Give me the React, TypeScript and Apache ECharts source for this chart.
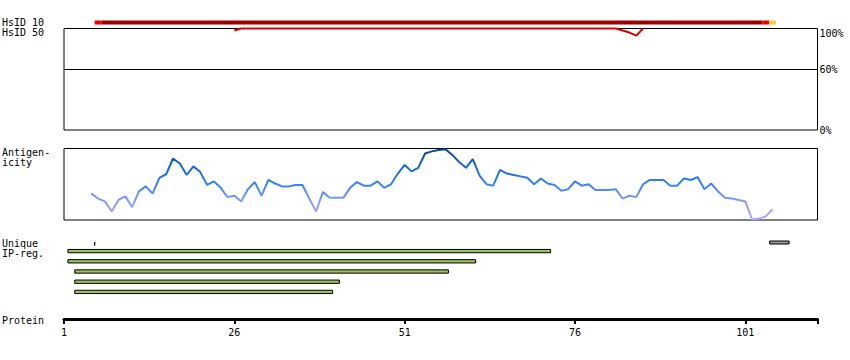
import React, { useEffect, useRef } from 'react';
import * as echarts from 'echarts';

// ---- data ----
const X_MIN = 1;
const X_MAX = 111.6;

const proteinTicks = [1, 26, 51, 76, 101];
const identityTicks = [0, 60, 100];
const identityGuide = 60;

const trackLabels = ['HsID 10', 'HsID 50', 'Antigen-', 'icity', 'Unique', 'IP-reg.', 'Protein'];

// HsID 10 coverage blocks: [from edge, to edge, level]
const hsid10Blocks: [number, number, number][] = [
  [5.5, 6.5, 1],
  [6.5, 103.5, 2],
  [103.5, 104.5, 1],
  [104.5, 105.5, 0],
];

// HsID 50 identity (%)
const hsid50Residues = [26, 27, 82, 83, 84, 85, 86];
const hsid50Identity = [98, 100, 100, 98, 96, 93, 100];

// Antigenicity, residues 5..106
const antigenStart = 5;
const antigenicity = [
  37, 30, 26, 12, 28, 33, 18, 40, 47, 37,
  59, 64, 86, 79, 63, 75, 67, 49, 54, 45,
  32, 34, 26, 43, 53, 34, 56, 51, 47, 47,
  49, 49, 30, 12, 39, 31, 31, 31, 45, 53,
  48, 48, 54, 45, 50, 65, 77, 68, 73, 93,
  96, 98, 99, 91, 81, 73, 85, 62, 50, 48,
  70, 65, 63, 61, 59, 50, 58, 51, 49, 41,
  43, 54, 48, 50, 42, 42, 42, 43, 30, 34,
  32, 50, 56, 56, 56, 48, 48, 58, 56, 60,
  43, 51, 40, 31, 30, 28, 26, 1, 2, 5,
  15,
];
const antigenResidues = antigenicity.map((_, i) => antigenStart + i);

// Unique regions (edges)
const uniqueRegions: [number, number][] = [
  [5.5, 5.5],
  [104.5, 107.5],
];

// IP-reg regions (edges), one per row
const ipRegions: [number, number][] = [
  [1.5, 72.5],
  [1.5, 61.5],
  [2.5, 57.5],
  [2.5, 41.5],
  [2.5, 40.5],
];

// ---- styles ----
const FONT = '"DejaVu Sans Mono", monospace';
const hsid10Colors = ['#ffcc33', '#ee0000', '#990000'];
const GL = 64;
const GR = 32.5;

export default function App() {
  const ref = useRef<HTMLDivElement>(null);

  useEffect(() => {
    if (!ref.current) return;
    const chart = echarts.init(ref.current, undefined, { renderer: 'svg' });

    const hiddenX = (gridIndex: number) => ({
      type: 'value',
      gridIndex,
      min: X_MIN,
      max: X_MAX,
      show: false,
    });
    const hiddenY = (gridIndex: number, extra: any = {}) => ({
      type: 'value',
      gridIndex,
      min: 0,
      max: 1,
      show: false,
      ...extra,
    });

    const option: any = {
      animation: false,
      textStyle: { fontFamily: FONT, fontSize: 10, color: '#000' },
      grid: [
        { left: GL, right: GR, top: 20.5, height: 4 },
        { left: GL, right: GR, top: 28.5, height: 101.5, show: true, borderColor: '#000', borderWidth: 1 },
        { left: GL, right: GR, top: 148.5, height: 71.5, show: true, borderColor: '#000', borderWidth: 1 },
        { left: GL, right: GR, top: 240.5, height: 4 },
        { left: GL, right: GR, top: 247, height: 51 },
        { left: GL, right: GR, top: 299, height: 20 },
      ],
      xAxis: [
        hiddenX(0),
        hiddenX(1),
        hiddenX(2),
        hiddenX(3),
        hiddenX(4),
        {
          type: 'value',
          gridIndex: 5,
          min: X_MIN,
          max: X_MAX,
          position: 'bottom',
          axisLine: { show: true, lineStyle: { color: '#000', width: 3 } },
          axisTick: {
            show: true,
            length: 5,
            customValues: [...proteinTicks, X_MAX],
            lineStyle: { color: '#000', width: 2 },
          },
          axisLabel: {
            customValues: proteinTicks,
            margin: 8,
            color: '#000',
            fontFamily: FONT,
            fontSize: 10,
          },
          splitLine: { show: false },
        },
      ],
      yAxis: [
        hiddenY(0),
        {
          type: 'value',
          gridIndex: 1,
          min: 0,
          max: 100,
          position: 'right',
          axisLine: { show: false },
          axisTick: { show: false },
          splitLine: { show: false },
          axisLabel: {
            customValues: identityTicks,
            formatter: (v: number) => v + '%',
            margin: 2,
            color: '#000',
            fontFamily: FONT,
            fontSize: 10,
            verticalAlignMaxLabel: 'top',
          },
        },
        {
          type: 'value',
          gridIndex: 2,
          min: 0,
          max: 100,
          show: false,
        },
        hiddenY(3),
        {
          type: 'category',
          gridIndex: 4,
          data: ipRegions.map((_, i) => String(i + 1)),
          inverse: true,
          show: false,
        },
        hiddenY(5),
      ],
      visualMap: [
        {
          type: 'continuous',
          show: false,
          seriesIndex: 2,
          dimension: 1,
          min: 0,
          max: 100,
          inRange: { color: ['#b4a8ff', '#8a9cff', '#3282ff', '#1666e0', '#00449a'] },
        },
      ],
      series: [
        {
          type: 'custom',
          xAxisIndex: 0,
          yAxisIndex: 0,
          clip: false,
          data: hsid10Blocks,
          renderItem: (params: any, api: any) => {
            const a = api.coord([api.value(0), 1]);
            const b = api.coord([api.value(1), 0]);
            return {
              type: 'rect',
              shape: { x: a[0], y: a[1], width: b[0] - a[0], height: b[1] - a[1] },
              style: { fill: hsid10Colors[api.value(2)] },
            };
          },
        },
        {
          type: 'line',
          xAxisIndex: 1,
          yAxisIndex: 1,
          data: hsid50Residues.map((r, i) => [r, hsid50Identity[i]]),
          showSymbol: false,
          symbol: 'none',
          clip: false,
          lineStyle: { color: '#dd0000', width: 2 },
          markLine: {
            silent: true,
            symbol: 'none',
            label: { show: false },
            lineStyle: { color: '#000', width: 1, type: 'solid' },
            data: [{ yAxis: identityGuide }],
          },
          z: 3,
        },
        {
          type: 'line',
          xAxisIndex: 2,
          yAxisIndex: 2,
          data: antigenResidues.map((r, i) => [r, antigenicity[i]]),
          showSymbol: false,
          symbol: 'none',
          lineStyle: { width: 2 },
        },
        {
          type: 'custom',
          xAxisIndex: 3,
          yAxisIndex: 3,
          clip: false,
          data: uniqueRegions,
          renderItem: (params: any, api: any) => {
            const a = api.coord([api.value(0), 1]);
            const b = api.coord([api.value(1), 0]);
            if (b[0] - a[0] < 0.5) {
              return {
                type: 'line',
                shape: { x1: a[0], y1: a[1] + 1.5, x2: a[0], y2: b[1] + 1 },
                style: { stroke: '#000', lineWidth: 1.3 },
              };
            }
            return {
              type: 'rect',
              shape: { x: a[0] + 0.5, y: a[1] + 0.5, width: b[0] - a[0] - 1, height: b[1] - a[1] - 1 },
              style: { fill: '#999999', stroke: '#000', lineWidth: 1 },
            };
          },
        },
        {
          type: 'custom',
          xAxisIndex: 4,
          yAxisIndex: 4,
          clip: false,
          data: ipRegions.map((r, i) => [r[0], r[1], i]),
          renderItem: (params: any, api: any) => {
            const a = api.coord([api.value(0), api.value(2)]);
            const b = api.coord([api.value(1), api.value(2)]);
            const h = 3.3;
            return {
              type: 'rect',
              shape: { x: a[0] + 0.5, y: a[1] - h / 2 - 1, width: b[0] - a[0] - 1, height: h },
              style: { fill: '#9bc25e', stroke: '#000', lineWidth: 1 },
            };
          },
        },
      ],
      graphic: [
        { type: 'text', x: 2, y: 22.3, style: { text: trackLabels[0], font: `10px ${FONT}`, fill: '#000', verticalAlign: 'middle' } },
        { type: 'text', x: 2, y: 32.7, style: { text: trackLabels[1], font: `10px ${FONT}`, fill: '#000', verticalAlign: 'middle' } },
        { type: 'text', x: 2, y: 152.5, style: { text: trackLabels[2], font: `10px ${FONT}`, fill: '#000', verticalAlign: 'middle' } },
        { type: 'text', x: 2, y: 162, style: { text: trackLabels[3], font: `10px ${FONT}`, fill: '#000', verticalAlign: 'middle' } },
        { type: 'text', x: 2, y: 243, style: { text: trackLabels[4], font: `10px ${FONT}`, fill: '#000', verticalAlign: 'middle' } },
        { type: 'text', x: 2, y: 253.5, style: { text: trackLabels[5], font: `10px ${FONT}`, fill: '#000', verticalAlign: 'middle' } },
        { type: 'text', x: 2, y: 320, style: { text: trackLabels[6], font: `10px ${FONT}`, fill: '#000', verticalAlign: 'middle' } },
      ],
    };

    chart.setOption(option);
    return () => chart.dispose();
  }, []);

  return (
    <div
      ref={ref}
      style={{ position: 'absolute', left: 0, top: 0, width: 850, height: 360, background: '#fff' }}
    />
  );
}
